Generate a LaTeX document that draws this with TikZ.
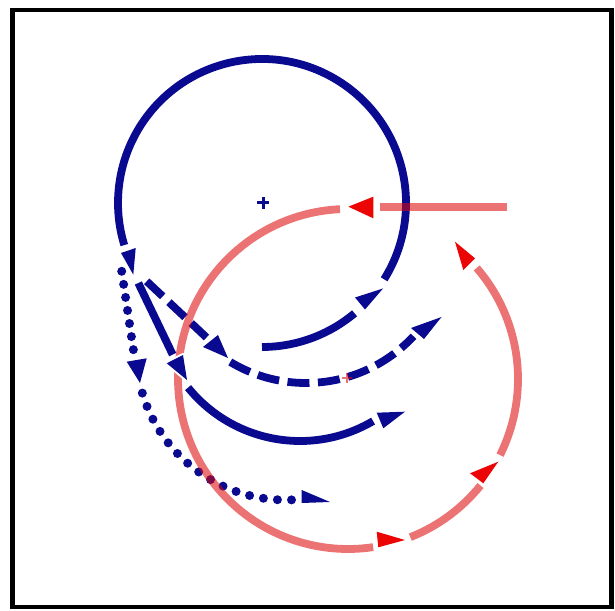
\documentclass[tikz,border=0pt]{standalone}
\usetikzlibrary{calc}
\definecolor{bl}{RGB}{10,10,145}
\definecolor{rd}{RGB}{235,5,5}
\definecolor{rdl}{RGB}{222,8,8}
\newcommand{\arrtri}[4]{%
  \draw[white, line width=4pt, line join=round] #2 -- #3 -- #4 -- cycle;
  \fill[#1] #2 -- #3 -- #4 -- cycle;}
\begin{document}
\begin{tikzpicture}[x=1pt,y=1pt,line cap=butt,
  bline/.style={bl, line width=7.8pt},
  dotline/.style={bl, line width=9pt, line cap=round},
  rline/.style={rdl, line width=7.8pt, opacity=0.57}]
\useasboundingbox (0,0) rectangle (615,610);
\draw[black, line width=4.5pt] (12.5,3) rectangle (611.5,600);

% blue circle (solid)
\coordinate (cb) at (262,407);
\draw[bline] ($(cb)+(270:144)$) arc[start angle=270, end angle=310, radius=144];
\draw[bline] ($(cb)+(328:144)$) arc[start angle=328, end angle=557, radius=144];
% solid branch
\coordinate (s0) at (138.3,327);
\coordinate (s1) at (172.7,255.4);
\draw[bline] (s0) -- (s1);
\coordinate (cs) at (300,313);
\draw[bline] ($(cs)+(219:144)$) arc[start angle=219, end angle=300.5, radius=144];
% dashed branch
\coordinate (d0) at (146.7,328.7);
\coordinate (d1) at (206.5,272.5);
\draw[bline, dash pattern=on 22pt off 8.5pt] (d0) -- (d1);
\coordinate (cd) at (306,374);
\draw[bline, dash pattern=on 22pt off 8.5pt] ($(cd)+(239:147)$) arc[start angle=239, end angle=317, radius=147];
% dotted branch
\coordinate (t0) at (121.7,338.7);
\coordinate (t1) at (133.5,259.5);
\draw[dotline, dash pattern=on 0pt off 13.2pt] (t0) -- (t1);
\coordinate (ct) at (286,260);
\draw[dotline, dash pattern=on 0pt off 14.1pt] ($(ct)+(196.7:150)$) arc[start angle=196.7, end angle=272.3, radius=150];
% blue centre mark
\draw[bl, line width=2.5pt] (257.3,407.3) -- (269.3,407.3) (263.3,401.3) -- (263.3,413.3);

% red path
\coordinate (r0) at (507,403.3);
\coordinate (r1) at (380,403.3);
\draw[rline] (r0) -- (r1);
\coordinate (cr) at (348,231);
\draw[rline] ($(cr)+(92.7:170)$) arc[start angle=92.7, end angle=278.5, radius=170];
\draw[rline] ($(cr)+(291.5:170)$) arc[start angle=291.5, end angle=321.2, radius=170];
\draw[rline] ($(cr)+(333.4:170)$) arc[start angle=333.4, end angle=400.8, radius=170];
\draw[rdl, opacity=0.57, line width=2pt] (342,231.5) -- (352,231.5) (347,226.5) -- (347,236.5);

% blue arrowheads
\arrtri{bl}{(355,312.5)}{(365,300.5)}{(383,321.5)}
\arrtri{bl}{(121,357)}{(135.7,362)}{(133.3,335.3)}
\arrtri{bl}{(166.7,246.7)}{(183,255)}{(187,230)}
\arrtri{bl}{(203,263)}{(218,275)}{(228,252)}
\arrtri{bl}{(126.7,248.3)}{(146.7,251.7)}{(140,227)}
\arrtri{bl}{(301.7,120)}{(301.7,107)}{(330,108)}
\arrtri{bl}{(411,282)}{(424,271)}{(441.5,293)}
\arrtri{bl}{(376.7,197.3)}{(383.3,181.7)}{(405,198.3)}
% red arrowheads
\arrtri{rd}{(348.3,403.3)}{(373.3,413.3)}{(373.3,391.7)}
\arrtri{rd}{(376.7,78.3)}{(378.3,62.7)}{(405,70)}
\arrtri{rd}{(470,136.7)}{(483.3,126.7)}{(498.3,148.3)}
\arrtri{rd}{(455,368.3)}{(463.3,340)}{(475,351.7)}
\end{tikzpicture}
\end{document}
